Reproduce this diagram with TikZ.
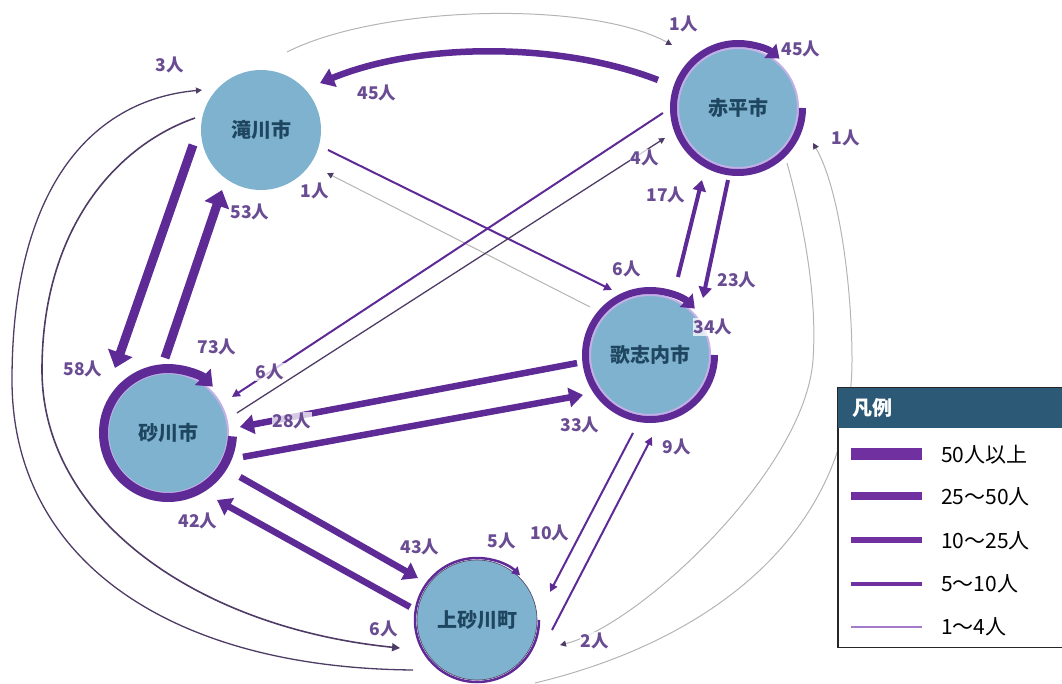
\documentclass[tikz,border=0pt]{standalone}
\usepackage{fontspec}
\setmainfont{Noto Sans CJK JP}
\usetikzlibrary{arrows.meta,calc}
\definecolor{cfill}{HTML}{7FB2CE}
\definecolor{ctext}{HTML}{1F4660}
\definecolor{clav}{HTML}{C4B0E8}
\definecolor{cpur}{HTML}{5E2A96}
\definecolor{cleg}{HTML}{7030A0}
\definecolor{clegl}{HTML}{A57CC9}
\definecolor{cdark}{HTML}{4E3C66}
\definecolor{cgray}{HTML}{B4B4B4}
\definecolor{clbl}{HTML}{6A4C93}
\definecolor{chead}{HTML}{2C5A76}
\begin{document}
\begin{tikzpicture}[x=1pt,y=-1pt,
  city/.style={circle, minimum size=120pt, inner sep=0pt, fill=cfill, text=ctext,
    font=\fontsize{20}{20}\selectfont\bfseries},
  ringed/.style={draw=clav, line width=2pt},
  e50/.style={draw=cpur, line width=9pt, -{Triangle[length=16pt,width=25pt]}},
  e25/.style={draw=cpur, line width=6.5pt, -{Triangle[length=14pt,width=19pt]}},
  e10/.style={draw=cpur, line width=4pt, -{Triangle[length=11pt,width=13pt]}},
  e5/.style={draw=cpur, line width=2pt, -{Triangle[length=8pt,width=8pt]}},
  e4/.style={draw=cdark, line width=1.3pt, -{Triangle[length=6pt,width=6pt]}},
  e1/.style={draw=cgray, line width=1pt, -{Triangle[length=6pt,width=6pt,color=cdark]}},
  r50/.style={draw=cpur, line width=9pt, -{Triangle[length=14pt,width=22pt]}},
  r25/.style={draw=cpur, line width=7pt, -{Triangle[length=12pt,width=18pt]}},
  r5/.style={draw=cpur, line width=2.5pt, -{Triangle[length=8pt,width=9pt]}},
  lbl/.style={text=clbl, font=\fontsize{17.5}{17.5}\selectfont\bfseries, fill=white,
    fill opacity=0.75, text opacity=1, inner sep=1pt},
  legtxt/.style={anchor=west, font=\fontsize{21}{21}\selectfont, text=black, inner sep=0pt}
]
\useasboundingbox (0,0) rectangle (1062,684);

% cities
\node[city] (taki) at (261,130) {滝川市};
\node[city, ringed] (aka) at (738,108) {赤平市};
\node[city, ringed] (suna) at (168,433) {砂川市};
\node[city, ringed] (uta) at (650,355) {歌志内市};
\node[city, draw=cdark, line width=0.6pt] (kami) at (477,620) {上砂川町};

% self flows (rings)
\draw[r25] ($(aka)+(0:64.5)$) arc[start angle=0, end angle=310, radius=64.5];
\draw[r50] ($(suna)+(3:64.5)$) arc[start angle=3, end angle=314, radius=64.5];
\draw[r25] ($(uta)+(0:64.5)$) arc[start angle=0, end angle=314, radius=64.5];
\draw[r5] ($(kami)+(0:62)$) arc[start angle=0, end angle=314, radius=62];

% curved flows
\draw[e25] ($(aka)+(-160.7:84.8)$) .. controls (560,42) and (420,42) .. ($(taki)+(-38.5:75.4)$);
\draw[e1] ($(taki)+(-71.6:82.2)$) .. controls (380,5) and (590,0) .. ($(aka)+(-136.3:91.2)$);
\draw[e4] ($(kami)+(142:81.2)$) .. controls (170,668) and (12,560) .. (12,380)
  .. controls (12,190) and (90,100) .. ($(taki)+(-145.9:71.3)$);
\draw[e5, draw=cdark, line width=1.6pt] ($(taki)+(-169.7:67.1)$) .. controls (115,146) and (42,230) .. (42,370)
  .. controls (42,520) and (200,628) .. ($(kami)+(160:81.9)$);
\draw[e1] ($(kami)+(47.4:85.6)$) .. controls (715,640) and (852,530) .. (852,360)
  .. controls (852,290) and (840,190) .. ($(aka)+(25:82.8)$);
\draw[e1] ($(aka)+(48.3:73.7)$) .. controls (800,210) and (818,290) .. (813,360)
  .. controls (805,470) and (640,625) .. ($(kami)+(16.8:86.7)$);

% straight flows
\draw[e50] ($(taki)+(167.6:69.6)$) -- ($(suna)+(-129.2:83.9)$);
\draw[e50] ($(suna)+(-92.3:75.1)$) -- ($(taki)+(123:71.6)$);
\draw[e10] ($(aka)+(97.9:72.7)$) -- ($(uta)+(-47.1:77.8)$);
\draw[e10] ($(uta)+(-70.3:82.9)$) -- ($(aka)+(116.6:80.5)$);
\draw[e5] ($(taki)+(16.6:69.9)$) -- ($(uta)+(-120.3:75.3)$);
\draw[e1] ($(uta)+(-141.3:76.8)$) -- ($(taki)+(33.1:78.8)$);
\draw[e5] ($(aka)+(176.2:75.2)$) -- ($(suna)+(-29.4:73.4)$);
\draw[e4] ($(suna)+(-16.2:71.8)$) -- ($(aka)+(157.7:78.9)$);
\draw[e25] ($(uta)+(173.7:73.4)$) -- ($(suna)+(-4.8:72.2)$);
\draw[e25] ($(suna)+(17.7:78.7)$) -- ($(uta)+(149.2:78)$);
\draw[e25] ($(suna)+(31.4:84.4)$) -- ($(kami)+(-144.6:72.4)$);
\draw[e25] ($(kami)+(-169:68.2)$) -- ($(suna)+(53.8:83)$);
\draw[e5] ($(uta)+(102.3:79.8)$) -- ($(kami)+(-21:78.2)$);
\draw[e5] ($(kami)+(7.6:75.7)$) -- ($(uta)+(88.6:82)$);

% labels
\node[lbl] (l1) at (377,93) {45人};
\node[lbl] (l2) at (684,24) {1人};
\node[lbl] (l3) at (170,65) {3人};
\node[lbl] (l4) at (384,629) {6人};
\node[lbl] (l5) at (846,138) {1人};
\node[lbl] (l6) at (595,641) {2人};
\node[lbl] (l7) at (83,369) {58人};
\node[lbl] (l8) at (250,212) {53人};
\node[lbl] (l9) at (737,280) {23人};
\node[lbl] (l10) at (666,195) {17人};
\node[lbl] (l11) at (627,269) {6人};
\node[lbl] (l12) at (315,191) {1人};
\node[lbl] (l13) at (270,372) {6人};
\node[lbl] (l14) at (645,158) {4人};
\node[lbl] (l15) at (292,421) {28人};
\node[lbl] (l16) at (580,425) {33人};
\node[lbl] (l17) at (420,547) {43人};
\node[lbl] (l18) at (198,521) {42人};
\node[lbl] (l19) at (550,533) {10人};
\node[lbl] (l20) at (677,447) {9人};
\node[lbl] (l21) at (801,49) {45人};
\node[lbl] (l22) at (217,347) {73人};
\node[lbl] (l23) at (713,327) {34人};
\node[lbl] (l24) at (502,541) {5人};

% legend
\node[draw=black!85, fill=white, line width=1pt, minimum width=224pt, minimum height=259pt,
  anchor=north west, inner sep=0pt] (leg) at (837.5,387.5) {};
\fill[chead] (leg.north west) rectangle ($(leg.north east)+(0,40)$);
\draw[black!85, line width=1pt] (leg.north west) rectangle (leg.south east);
\node[anchor=west, text=white, font=\fontsize{20}{20}\selectfont\bfseries, inner sep=0pt] (legt) at (852,408) {凡例};
\draw[cleg, line width=12pt] (851,454) -- (922,454);
\draw[cleg, line width=8.5pt] (851,496) -- (922,496);
\draw[cleg, line width=6pt] (851,540) -- (922,540);
\draw[cleg, line width=3.5pt] (851,584) -- (922,584);
\draw[clegl, line width=1.7pt] (851,627) -- (922,627);
\node[legtxt] (g1) at (941,455) {50人以上};
\node[legtxt] (g2) at (941,497) {25～50人};
\node[legtxt] (g3) at (941,541) {10～25人};
\node[legtxt] (g4) at (941,584) {5～10人};
\node[legtxt] (g5) at (941,627) {1～4人};
\end{tikzpicture}
\end{document}
